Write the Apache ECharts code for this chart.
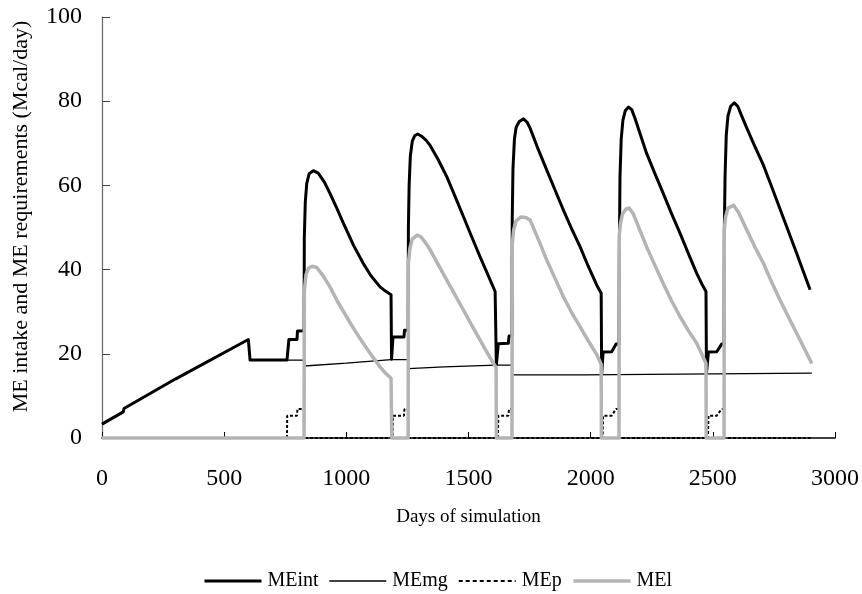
<!DOCTYPE html>
<html>
<head>
<meta charset="utf-8">
<script src="https://cdn.jsdelivr.net/npm/echarts@6/dist/echarts.min.js"></script>
<style>
  html, body { margin: 0; padding: 0; background: #fff; }
  #chart { width: 862px; height: 594px; }
</style>
</head>
<body>
<div id="chart"></div>
<script>
// [day, Mcal/day]
var MEint = [
  [0, 3.3], [87, 6.2], [90, 7.0], [300, 14.0], [599, 23.4], [606, 18.5],
  [757, 18.5], [765, 23.4], [798, 23.4], [800, 25.4], [827, 25.5],
  [828, 47.5], [832, 56], [838, 60.5], [848, 62.8], [865, 63.5], [885, 62.9], [910, 60.8],
  [933, 58.1], [960, 54.7], [985, 51.4], [1001, 49.4], [1030, 45.7], [1069, 41.5],
  [1100, 38.6], [1138, 35.9], [1160, 34.9], [1183, 34.0],
  [1185, 18.7], [1189, 18.7], [1191, 24], [1236, 24], [1238, 25.6], [1253, 25.6],
  [1254, 50], [1257, 60], [1262, 67], [1270, 70.5], [1280, 71.8], [1292, 72.2], [1310, 71.6],
  [1325, 70.8], [1343, 69.5], [1375, 66.2], [1411, 62.1], [1445, 57.4], [1479, 52.6],
  [1513, 47.8], [1547, 43.1], [1580, 38.7], [1609, 34.8], [1612, 34.5],
  [1614, 17.4], [1620, 17.4], [1622, 22.4], [1663, 22.5], [1666, 24.2], [1678, 24.2],
  [1679, 52], [1682, 64], [1688, 71], [1695, 73.8], [1708, 75.2], [1725, 75.8], [1740, 75.0],
  [1752, 73.6], [1785, 68.6], [1820, 63.7], [1855, 58.8], [1888, 54.2], [1922, 49.7],
  [1957, 45.4], [1990, 40.8], [2025, 36.3], [2043, 34.4],
  [2045, 15.2], [2049, 15.2], [2051, 20.4], [2086, 20.5], [2104, 22.3], [2116, 22.3],
  [2117, 42], [2120, 62], [2125, 71], [2132, 75.5], [2142, 77.8], [2155, 78.6], [2168, 78.0],
  [2181, 76.0], [2205, 71.8], [2229, 67.6], [2263, 62.8], [2297, 58.1], [2331, 53.3],
  [2366, 48.6], [2400, 43.8], [2434, 39.1], [2455, 36.6], [2472, 34.8],
  [2474, 15.4], [2480, 15.4], [2482, 20.4], [2516, 20.5], [2536, 22.3], [2546, 22.3],
  [2547, 49], [2550, 62], [2555, 72], [2562, 76.5], [2573, 78.8], [2588, 79.6], [2602, 78.8],
  [2618, 76.5], [2640, 73.5], [2670, 69.5], [2707, 64.8], [2740, 59.8], [2775, 54.4],
  [2810, 49.0], [2843, 43.9], [2870, 39.6], [2898, 35.2]
];

var MEmg = [
  [0, 3.3], [87, 6.2], [90, 7.0], [300, 14.0], [599, 23.4], [606, 18.5],
  [827, 18.5], [828, 17.1], [1000, 17.8], [1183, 18.6], [1253, 18.6],
  [1254, 16.5], [1400, 16.9], [1612, 17.3], [1678, 17.3],
  [1679, 15.0], [1970, 15.0], [1972, 15.4], [2905, 15.4]
];

var MEp = [
  [0, 0], [757, 0], [758, 5.3], [798, 5.3], [800, 6.9], [826, 6.9], [827, 0],
  [1189, 0], [1191, 5.3], [1236, 5.3], [1238, 6.9], [1252, 6.9], [1253, 0],
  [1620, 0], [1622, 5.3], [1663, 5.3], [1666, 6.9], [1677, 6.9], [1678, 0],
  [2049, 0], [2051, 5.3], [2086, 5.3], [2104, 6.9], [2115, 6.9], [2116, 0],
  [2480, 0], [2482, 5.3], [2516, 5.3], [2536, 6.9], [2545, 6.9], [2546, 0],
  [2900, 0]
];

var MEl = [
  [0, 0], [827, 0], [828, 35], [835, 38.8], [845, 40.3], [860, 40.8], [879, 40.5],
  [905, 38.5], [933, 35.9], [965, 32.3], [1001, 28.8], [1035, 25.5], [1069, 22.5],
  [1105, 19.5], [1138, 16.9], [1160, 15.4], [1183, 14.2], [1185, 14], [1186, 0],
  [1253, 0], [1254, 41.5], [1260, 45], [1270, 47.3], [1290, 48.2], [1305, 47.8],
  [1320, 46.7], [1343, 44.7], [1375, 41.3], [1411, 37.5], [1445, 34.0], [1479, 30.4],
  [1513, 26.8], [1547, 23.3], [1575, 20.4], [1602, 17.7], [1613, 16.8], [1614, 0],
  [1678, 0], [1679, 46], [1685, 49.5], [1695, 51.6], [1715, 52.5], [1735, 52.4],
  [1752, 51.8], [1785, 47.3], [1820, 42.3], [1855, 37.8], [1888, 33.6], [1922, 29.8],
  [1957, 26.4], [1990, 23.1], [2025, 19.8], [2043, 17.5], [2044, 0],
  [2116, 0], [2117, 48], [2122, 51], [2130, 53.2], [2145, 54.4], [2158, 54.6],
  [2175, 53.2], [2195, 50.3], [2229, 45.4], [2263, 41.0], [2297, 36.7], [2331, 32.6],
  [2366, 28.8], [2400, 25.5], [2434, 22.5], [2455, 19.9], [2472, 17.7], [2473, 0],
  [2546, 0], [2547, 49.5], [2552, 52.5], [2562, 54.6], [2585, 55.3], [2605, 53.6],
  [2639, 49.4], [2672, 45.4], [2707, 41.5], [2740, 37.1], [2775, 32.8], [2810, 28.7],
  [2843, 24.9], [2875, 21.2], [2905, 17.7]
];

var serif = '"Liberation Serif", "Times New Roman", serif';

var chart = echarts.init(document.getElementById('chart'));
chart.setOption({
    animation: false,
    textStyle: { fontFamily: serif, color: '#000' },
    grid: { left: 102, right: 27, top: 17, bottom: 156, containLabel: false },
    legend: {
        data: [
            { name: 'MEint', lineStyle: { width: 3 } },
            { name: 'MEmg', lineStyle: { width: 1.3 } },
            { name: 'MEp', lineStyle: { width: 1.8, type: [4, 3] } },
            { name: 'MEl', lineStyle: { width: 3.5 } }
        ],
        left: 198,
        top: 566,
        itemWidth: 57,
        itemHeight: 12,
        itemGap: 10,
        itemStyle: { opacity: 0 },
        textStyle: { fontFamily: serif, fontSize: 20, color: '#000', padding: [0, 0, 0, 1] }
    },
    xAxis: {
        type: 'value',
        min: 0,
        max: 3000,
        interval: 500,
        name: 'Days of simulation',
        nameLocation: 'middle',
        nameGap: 70,
        nameTextStyle: { fontFamily: serif, fontSize: 19, color: '#000' },
        axisLine: { lineStyle: { color: '#000', width: 1.5 } },
        axisTick: { inside: true, length: 6, lineStyle: { color: '#000' } },
        axisLabel: {
            fontFamily: serif, fontSize: 24, color: '#000', margin: 29,
            formatter: function (v) { return String(v); }
        },
        splitLine: { show: false }
    },
    yAxis: {
        type: 'value',
        min: 0,
        max: 100,
        interval: 20,
        name: 'ME intake and ME requirements (Mcal/day)',
        nameLocation: 'middle',
        nameGap: 70,
        nameTextStyle: { fontFamily: serif, fontSize: 22, color: '#000', padding: [0, 0, 0, 22] },
        axisLine: { show: true, lineStyle: { color: '#666', width: 1.2 } },
        axisTick: { show: true, inside: true, length: 8, lineStyle: { color: '#444' } },
        axisLabel: { fontFamily: serif, fontSize: 24, color: '#000', margin: 20 },
        splitLine: { show: false }
    },
    series: [
        {
            name: 'MEint', type: 'line', data: MEint, showSymbol: false, symbol: 'none',
            lineStyle: { color: '#000', width: 3, join: 'round' }, itemStyle: { color: '#000' }, z: 2
        },
        {
            name: 'MEmg', type: 'line', data: MEmg, showSymbol: false, symbol: 'none',
            lineStyle: { color: '#000', width: 1.3 }, itemStyle: { color: '#000' }, z: 3
        },
        {
            name: 'MEp', type: 'line', data: MEp, showSymbol: false, symbol: 'none', clip: false,
            lineStyle: { color: '#000', width: 2, type: [3, 2] }, itemStyle: { color: '#000' }, z: 4
        },
        {
            name: 'MEl', type: 'line', data: MEl, showSymbol: false, symbol: 'none', clip: false,
            lineStyle: { color: '#b4b4b4', width: 3.5, join: 'round' }, itemStyle: { color: '#b4b4b4' }, z: 5
        }
    ]
});
</script>
</body>
</html>
